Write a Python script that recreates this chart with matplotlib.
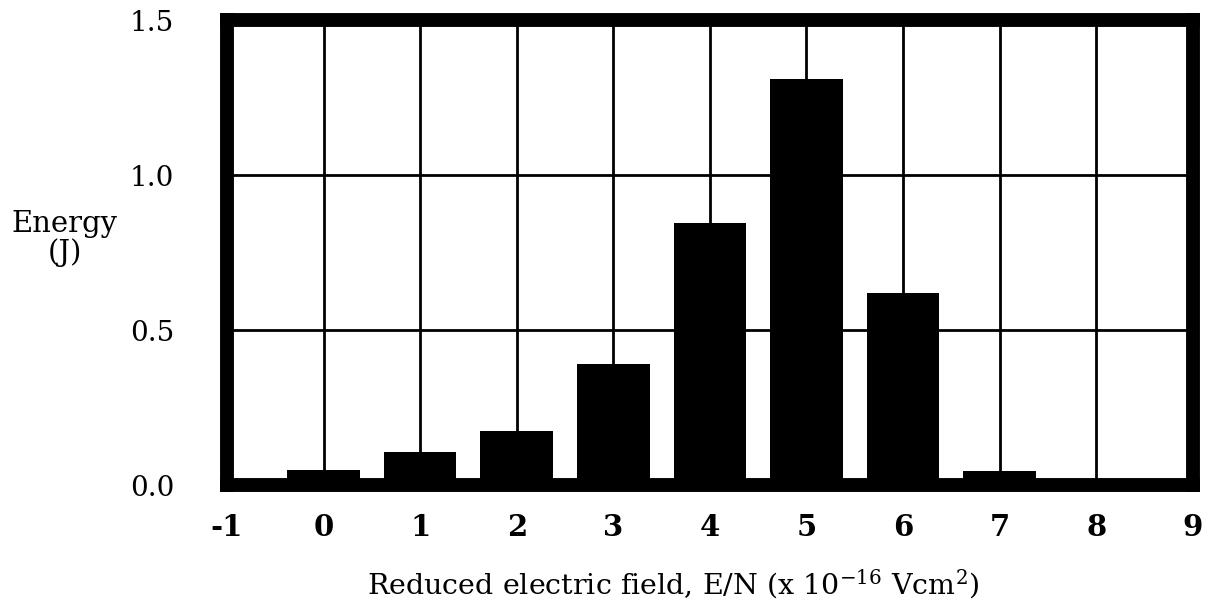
import matplotlib.pyplot as plt

plt.rcParams['font.family'] = 'DejaVu Serif'
plt.rcParams['mathtext.fontset'] = 'dejavuserif'
plt.rcParams['axes.unicode_minus'] = False

field = [0, 1, 2, 3, 4, 5, 6, 7, 8]
energy = [0.05, 0.105, 0.175, 0.39, 0.845, 1.31, 0.62, 0.045, 0.02]

fig = plt.figure(figsize=(12.11, 6.08), dpi=100)
ax = fig.add_axes([0.1874, 0.2023, 0.7976, 0.7647])

ax.bar(field, energy, width=0.75, color='black', zorder=2)

ax.set_xlim(-1, 9)
ax.set_ylim(0, 1.5)
ax.set_xticks(range(-1, 10))
ax.set_yticks([0.0, 0.5, 1.0, 1.5])
ax.set_yticklabels(['0.0', '0.5', '1.0', '1.5'])

ax.grid(True, color='black', linewidth=2.0, zorder=1)
ax.set_axisbelow(True)

for s in ax.spines.values():
    s.set_linewidth(10)
    s.set_color('black')
    s.set_zorder(3)

ax.tick_params(axis='x', length=0, pad=20, labelsize=21)
ax.tick_params(axis='y', length=0, pad=38, labelsize=20)
for t in ax.get_xticklabels():
    t.set_fontweight('bold')

ax.set_ylabel('Energy\n(J)', rotation=0, fontsize=21, ha='center', va='center', linespacing=1.0)
ax.yaxis.set_label_coords(-0.168, 0.53)

ax.set_xlabel(r'Reduced electric field, E/N (x 10$^{-16}$ Vcm$^{2}$)', fontsize=20.5)
ax.xaxis.set_label_coords(0.462, -0.178)

plt.savefig('out.png', dpi=100)
